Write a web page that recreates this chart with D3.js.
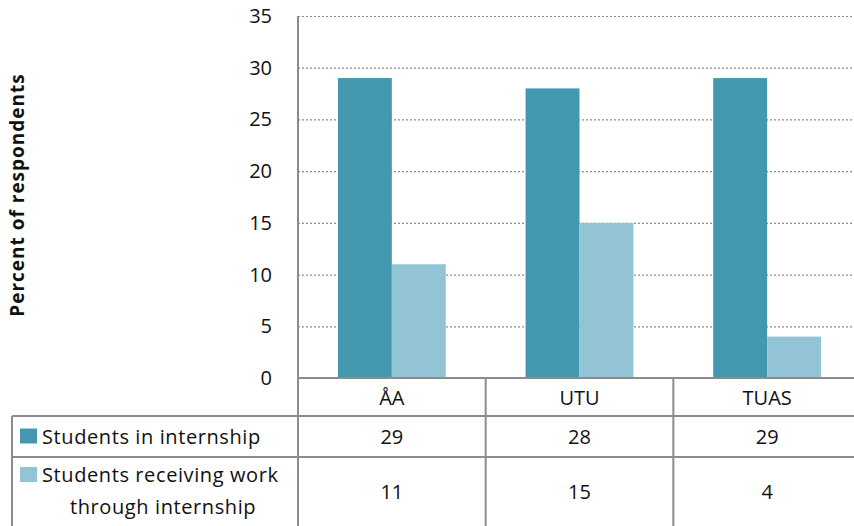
<!DOCTYPE html>
<html>
<head>
<meta charset="utf-8">
<script src="https://cdn.jsdelivr.net/npm/d3@7"></script>
<style>
  body { margin: 0; background: #fff; }
  text { font-family: "Open Sans", sans-serif; fill: #111; }
</style>
</head>
<body>
<div id="chart"></div>
<script>
const categories = ["ÅA", "UTU", "TUAS"];
const seriesNames = ["Students in internship", "Students receiving work|through internship"];
const internship = [29, 28, 29];
const receivingWork = [11, 15, 4];
const yTicks = [0, 5, 10, 15, 20, 25, 30, 35];
const colors = ["#4398AF", "#93C4D5"];

const W = 854, H = 526;
const plot = {left: 298, right: 861, top: 16, bottom: 378};
const tableLeft = 12;
const rowY = [378, 416, 457, 530];
const fs = "20px";

const svg = d3.select("#chart").append("svg")
    .attr("width", W).attr("height", H);

const x = d3.scaleBand().domain(categories).range([plot.left, plot.right]).paddingInner(0).paddingOuter(0);
const x1 = d3.scaleBand().domain([0, 1]).range([0, x.bandwidth()]).paddingInner(0).paddingOuter(0.74);
const y = d3.scaleLinear().domain([0, 35]).range([plot.bottom, plot.top]);

// gridlines
svg.append("g").selectAll("line")
    .data(yTicks.filter(d => d > 0))
    .join("line")
    .attr("x1", plot.left).attr("x2", W)
    .attr("y1", d => y(d) + 0.5).attr("y2", d => y(d) + 0.5)
    .attr("stroke", "#8c8c8c")
    .attr("stroke-width", 1.2)
    .attr("stroke-dasharray", "2,2");

// bars
const series = [internship, receivingWork];
series.forEach((vals, si) => {
    svg.append("g").selectAll("rect")
        .data(vals)
        .join("rect")
        .attr("x", (d, i) => x(categories[i]) + x1(si))
        .attr("width", x1.bandwidth())
        .attr("y", d => y(d))
        .attr("height", d => y(0) - y(d))
        .attr("fill", colors[si]);
});

// y axis ticks
svg.append("g").selectAll("text")
    .data(yTicks)
    .join("text")
    .attr("x", 272).attr("y", d => y(d))
    .attr("dy", "0.35em")
    .attr("text-anchor", "end")
    .style("font-size", fs)
    .text(d => d);

// y label
svg.append("text")
    .attr("transform", `translate(24, 195) rotate(-90)`)
    .attr("text-anchor", "middle")
    .style("font-size", "19px")
    .style("font-weight", "bold")
    .style("letter-spacing", "1px")
    .text("Percent of respondents");

// table lines
const grid = svg.append("g").attr("stroke", "#8c8c8c").attr("stroke-width", 2);
grid.append("line").attr("x1", plot.left).attr("x2", W).attr("y1", rowY[0]).attr("y2", rowY[0]);
grid.append("line").attr("x1", tableLeft).attr("x2", W).attr("y1", rowY[1]).attr("y2", rowY[1]);
grid.append("line").attr("x1", tableLeft).attr("x2", W).attr("y1", rowY[2]).attr("y2", rowY[2]);
grid.append("line").attr("x1", tableLeft).attr("x2", tableLeft).attr("y1", rowY[1]).attr("y2", H);
grid.append("line").attr("x1", plot.left).attr("x2", plot.left).attr("y1", plot.top).attr("y2", H);
categories.slice(1).forEach(c => {
    grid.append("line").attr("x1", x(c)).attr("x2", x(c)).attr("y1", rowY[0]).attr("y2", H);
});

// category labels
svg.append("g").selectAll("text")
    .data(categories)
    .join("text")
    .attr("x", d => x(d) + x.bandwidth() / 2)
    .attr("y", (rowY[0] + rowY[1]) / 2 + 1)
    .attr("dy", "0.35em")
    .attr("text-anchor", "middle")
    .style("font-size", fs)
    .text(d => d);

// values in table
const rowCenters = [(rowY[1] + rowY[2]) / 2, 492];
series.forEach((vals, si) => {
    svg.append("g").selectAll("text")
        .data(vals)
        .join("text")
        .attr("x", (d, i) => x(categories[i]) + x.bandwidth() / 2)
        .attr("y", rowCenters[si])
        .attr("dy", "0.35em")
        .attr("text-anchor", "middle")
        .style("font-size", fs)
        .text(d => d);
});

// legend keys
seriesNames.forEach((name, si) => {
    const lines = name.split("|");
    const keyY = si === 0 ? rowCenters[0] - 8 : 467;
    svg.append("rect")
        .attr("x", 20).attr("y", keyY)
        .attr("width", 17).attr("height", 15)
        .attr("fill", colors[si]);
    const t = svg.append("text")
        .style("font-size", fs)
        .style("letter-spacing", "0.6px");
    lines.forEach((ln, li) => {
        t.append("tspan")
            .attr("x", li === 0 ? 42 : 70)
            .attr("y", si === 0 ? rowCenters[0] : 475 + li * 32)
            .attr("dy", "0.35em")
            .text(ln);
    });
});
</script>
</body>
</html>
